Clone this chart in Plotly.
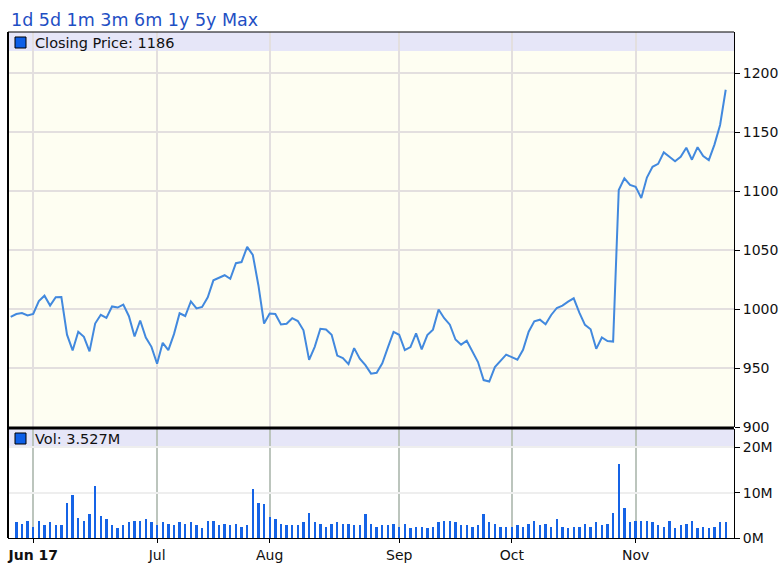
import plotly.graph_objects as go

# ---------------- data ----------------
dates = [
    "2017-05-25", "2017-05-26", "2017-05-30", "2017-05-31",
    "2017-06-01", "2017-06-02", "2017-06-05", "2017-06-06", "2017-06-07", "2017-06-08", "2017-06-09",
    "2017-06-12", "2017-06-13", "2017-06-14", "2017-06-15", "2017-06-16", "2017-06-19", "2017-06-20",
    "2017-06-21", "2017-06-22", "2017-06-23", "2017-06-26", "2017-06-27", "2017-06-28", "2017-06-29",
    "2017-06-30",
    "2017-07-03", "2017-07-05", "2017-07-06", "2017-07-07", "2017-07-10", "2017-07-11", "2017-07-12",
    "2017-07-13", "2017-07-14", "2017-07-17", "2017-07-18", "2017-07-19", "2017-07-20", "2017-07-21",
    "2017-07-24", "2017-07-25", "2017-07-26", "2017-07-27", "2017-07-28", "2017-07-31",
    "2017-08-01", "2017-08-02", "2017-08-03", "2017-08-04", "2017-08-07", "2017-08-08", "2017-08-09",
    "2017-08-10", "2017-08-11", "2017-08-14", "2017-08-15", "2017-08-16", "2017-08-17", "2017-08-18",
    "2017-08-21", "2017-08-22", "2017-08-23", "2017-08-24", "2017-08-25", "2017-08-28", "2017-08-29",
    "2017-08-30", "2017-08-31",
    "2017-09-01", "2017-09-05", "2017-09-06", "2017-09-07", "2017-09-08", "2017-09-11", "2017-09-12",
    "2017-09-13", "2017-09-14", "2017-09-15", "2017-09-18", "2017-09-19", "2017-09-20", "2017-09-21",
    "2017-09-22", "2017-09-25", "2017-09-26", "2017-09-27", "2017-09-28", "2017-09-29",
    "2017-10-02", "2017-10-03", "2017-10-04", "2017-10-05", "2017-10-06", "2017-10-09", "2017-10-10",
    "2017-10-11", "2017-10-12", "2017-10-13", "2017-10-16", "2017-10-17", "2017-10-18", "2017-10-19",
    "2017-10-20", "2017-10-23", "2017-10-24", "2017-10-25", "2017-10-26", "2017-10-27", "2017-10-30",
    "2017-10-31",
    "2017-11-01", "2017-11-02", "2017-11-03", "2017-11-06", "2017-11-07", "2017-11-08", "2017-11-09",
    "2017-11-10", "2017-11-13", "2017-11-14", "2017-11-15", "2017-11-16", "2017-11-17", "2017-11-20",
    "2017-11-21", "2017-11-22", "2017-11-24",
]

close = [
    993.38, 995.78, 996.70, 994.62,
    995.95, 1006.73, 1011.34, 1003.00, 1010.07, 1010.27, 978.31, 964.91, 980.79, 976.47, 964.17,
    987.71, 995.17, 992.59, 1002.23, 1001.30, 1003.74, 993.98, 976.78, 990.33, 975.93, 968.00,
    953.66, 971.40, 965.14, 978.76, 996.47, 994.13, 1006.51, 1000.63, 1001.81, 1010.04, 1024.38,
    1026.87, 1028.70, 1025.67, 1038.95, 1039.87, 1052.80, 1046.00, 1020.04, 987.78,
    996.19, 995.89, 986.92, 987.58, 992.27, 989.84, 982.01, 956.92, 967.99, 983.30, 982.74, 978.18,
    960.57, 958.47, 953.29, 966.90, 958.00, 952.45, 945.26, 946.02, 954.06, 967.59, 980.60,
    978.25, 965.27, 967.80, 979.47, 965.90, 977.96, 982.58, 999.60, 992.21, 986.79, 974.19, 969.86,
    973.21, 964.65, 955.10, 939.79, 938.60, 950.87, 956.40, 961.35,
    959.19, 957.10, 965.45, 980.85, 989.58, 990.99, 987.20, 995.00, 1000.93, 1002.94, 1006.34,
    1009.13, 997.00, 986.61, 982.91, 966.30, 975.90, 972.91, 972.43, 1100.95, 1110.85, 1105.28,
    1103.68, 1094.22, 1111.60, 1120.66, 1123.17, 1132.88, 1129.13, 1125.35, 1129.17, 1136.84,
    1126.69, 1137.29, 1129.88, 1126.31, 1139.49, 1156.16, 1186.00,
]

vol_dates = dates[1:]
volume_m = [
    3.5, 3.2, 3.8, 2.4, 3.8, 2.8, 3.5, 2.8, 2.8, 7.7, 9.4, 4.5, 3.8, 5.3, 11.5, 4.9,
    4.2, 2.8, 2.1, 2.8, 3.5, 3.8, 3.8, 4.2, 3.5, 2.8, 3.5, 3.2, 2.8, 3.5, 3.2, 3.5,
    2.8, 2.1, 3.8, 3.8, 2.8, 3.2, 2.8, 3.2, 2.4, 2.8, 10.8, 7.7, 7.4, 4.6,
    4.2, 3.2, 2.8, 2.8, 2.8, 3.5, 5.6, 3.5, 3.2, 2.4, 3.2, 3.5, 3.2, 3.2, 2.8, 2.8, 5.3, 3.2,
    2.4, 2.8, 2.8, 3.2, 2.4, 3.2, 2.1, 2.4, 2.4, 2.1, 2.4, 3.5, 3.8, 3.8, 3.5, 2.8,
    2.8, 2.4, 2.8, 5.3, 3.5, 3.2, 2.4, 2.4, 2.4, 2.8, 2.4, 3.2, 3.8, 2.8, 3.2, 2.4, 4.2,
    2.4, 2.1, 2.4, 2.4, 3.2, 2.4, 3.5, 2.8, 3.2, 5.6, 16.4, 6.7, 3.5, 3.8, 3.8,
    3.8, 3.5, 2.8, 2.4, 3.8, 2.1, 2.8, 3.2, 3.8, 2.1, 2.4, 2.1, 2.4, 3.5, 3.5,
]

month_ticks = ["2017-06-01", "2017-07-03", "2017-08-01", "2017-09-01", "2017-10-02", "2017-11-01"]
month_labels = ["<b>Jun 17</b>", "Jul", "Aug", "Sep", "Oct", "Nov"]
price_ticks = [900, 950, 1000, 1050, 1100, 1150, 1200]
vol_ticks = [0, 10, 20]
vol_labels = ["0M", "10M", "20M"]
range_links = "1d 5d 1m 3m 6m 1y 5y Max"
price_legend = "Closing Price: 1186"
vol_legend = "Vol: 3.527M"

# ---------------- layout geometry ----------------
W, H = 784, 566
L, R, T, B = 8, 50, 32, 28
PW, PH = W - L - R, H - T - B


def pxx(p):
    return (p - L) / PW


def pyy(p):
    return (H - B - p) / PH


FONT = "DejaVu Sans"
price_dom = [pyy(427), 1]
vol_dom = [0, pyy(429)]
xr = [-0.48, 128.47]

fig = go.Figure()
fig.add_trace(go.Scatter(x=dates, y=close, mode="lines",
                         line=dict(color="#4289de", width=2),
                         xaxis="x", yaxis="y", hoverinfo="skip"))
fig.add_trace(go.Bar(x=vol_dates, y=volume_m, width=0.42,
                     marker=dict(color="#1563e6", line=dict(width=0)),
                     xaxis="x2", yaxis="y2", hoverinfo="skip"))

common_x = dict(type="category", categoryorder="array", categoryarray=dates,
                range=xr, domain=[0, 1], tickvals=month_ticks, zeroline=False,
                fixedrange=True, automargin=False)

fig.update_layout(
    width=W, height=H,
    margin=dict(l=L, r=R, t=T, b=B, pad=0, autoexpand=False),
    paper_bgcolor="white", plot_bgcolor="#fefef2",
    showlegend=False, hovermode=False,
    font=dict(family=FONT, size=14, color="#111"),
    bargap=0,
    xaxis=dict(**common_x, anchor="y", showticklabels=False, showgrid=True,
               gridcolor="#e3dfdf", gridwidth=1.5, ticks="", showline=False),
    xaxis2=dict(**common_x, anchor="y2", ticktext=month_labels, showgrid=True,
                gridcolor="#bcc5bd", gridwidth=1.5, ticks="outside", ticklen=4,
                tickcolor="black", showline=True, linecolor="black", linewidth=1,
                tickfont=dict(family=FONT, size=14, color="#111")),
    yaxis=dict(domain=price_dom, range=[900, 1235], side="right", anchor="x",
               tickvals=price_ticks, ticks="outside", ticklen=5, tickcolor="black",
               showline=True, linecolor="black", linewidth=1, showgrid=True,
               gridcolor="#e3dfdf", gridwidth=1.5, zeroline=False, fixedrange=True,
               automargin=False, tickfont=dict(family=FONT, size=14, color="#111")),
    yaxis2=dict(domain=vol_dom, range=[0, 24.06], side="right", anchor="x2",
                tickvals=vol_ticks, ticktext=vol_labels, ticks="outside", ticklen=5,
                tickcolor="black", showline=True, linecolor="black", linewidth=1,
                showgrid=True, gridcolor="#eeeeee", gridwidth=1.5, zeroline=False,
                fixedrange=True, automargin=False,
                tickfont=dict(family=FONT, size=14, color="#111")),
)

shapes = [
    # volume panel white background
    dict(type="rect", xref="x2 domain", yref="y2 domain", x0=0, x1=1, y0=0, y1=1,
         fillcolor="white", line=dict(width=0), layer="below"),
    # legend bands
    dict(type="rect", xref="x domain", yref="y domain", x0=0, x1=1,
         y0=1 - (51 - 32) / 395, y1=1, fillcolor="#e6e6f8", line=dict(width=0), layer="below"),
    dict(type="rect", xref="x2 domain", yref="y2 domain", x0=0, x1=1,
         y0=1 - (448 - 429) / 109, y1=1, fillcolor="#e6e6f8", line=dict(width=0), layer="below"),
    # borders
    dict(type="line", xref="paper", yref="paper", x0=0, x1=0, y0=0, y1=1,
         line=dict(color="black", width=2)),
    dict(type="line", xref="paper", yref="paper", x0=0, x1=1, y0=1, y1=1,
         line=dict(color="black", width=1)),
    dict(type="line", xref="paper", yref="paper", x0=0, x1=1, y0=pyy(428), y1=pyy(428),
         line=dict(color="black", width=3)),
    # legend squares
    dict(type="rect", xref="paper", yref="paper", x0=pxx(15), x1=pxx(26),
         y0=pyy(48), y1=pyy(37), fillcolor="#0d5fe8", line=dict(color="black", width=1)),
    dict(type="rect", xref="paper", yref="paper", x0=pxx(15), x1=pxx(26),
         y0=pyy(444), y1=pyy(433), fillcolor="#0d5fe8", line=dict(color="black", width=1)),
]
fig.update_layout(shapes=shapes)

annotations = [
    dict(text=range_links, x=pxx(9), y=pyy(20), xref="paper", yref="paper",
         xanchor="left", yanchor="middle", showarrow=False,
         font=dict(family=FONT, size=17.5, color="#1e4fc4")),
    dict(text=price_legend, x=pxx(33), y=pyy(42.5), xref="paper", yref="paper",
         xanchor="left", yanchor="middle", showarrow=False,
         font=dict(family=FONT, size=14.5, color="#111")),
    dict(text=vol_legend, x=pxx(33), y=pyy(438.5), xref="paper", yref="paper",
         xanchor="left", yanchor="middle", showarrow=False,
         font=dict(family=FONT, size=14.5, color="#111")),
]
fig.update_layout(annotations=annotations)

fig.write_html("out.html", config={"displayModeBar": False})
